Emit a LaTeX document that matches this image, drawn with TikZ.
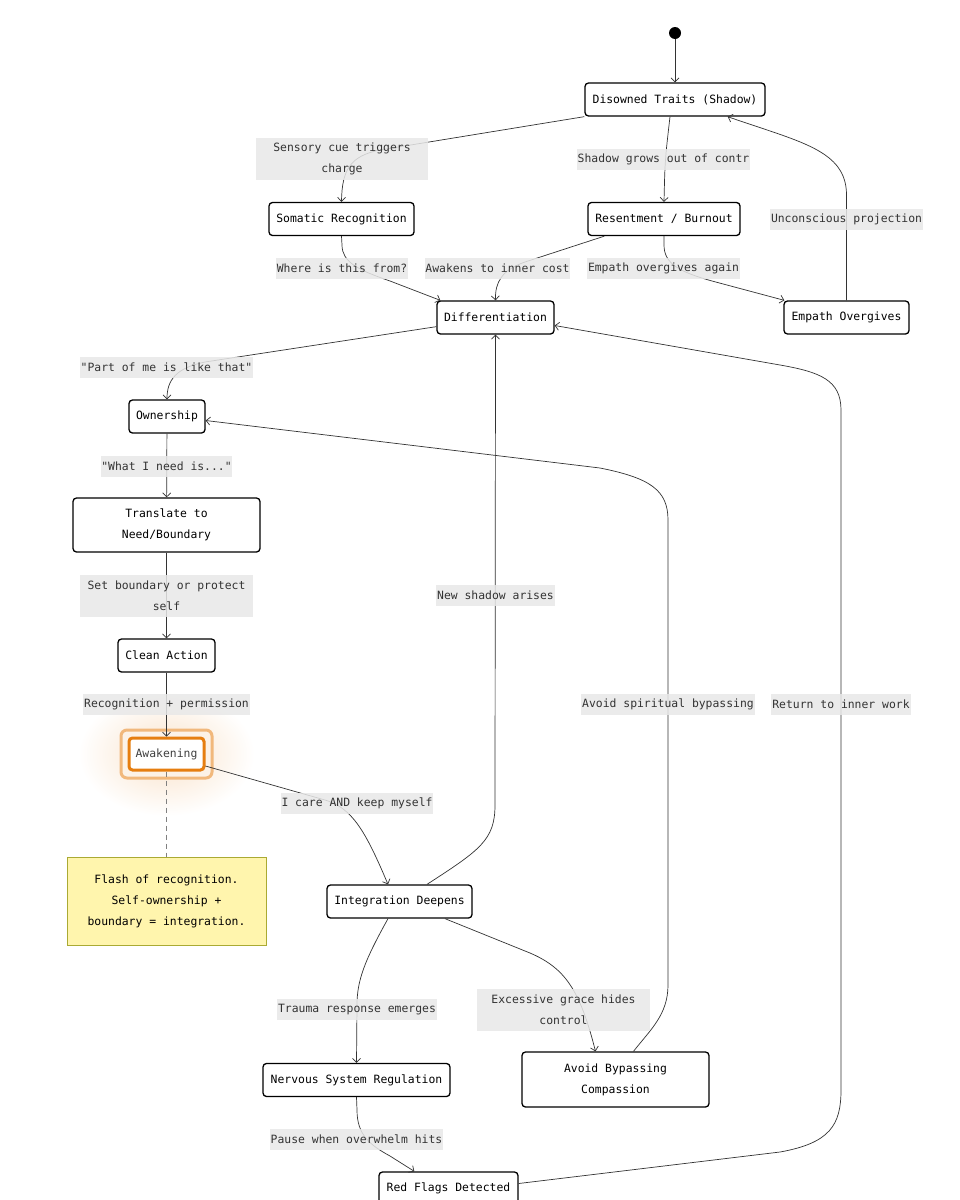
\documentclass[tikz,border=0pt]{standalone}
\usepackage{fontspec}
\setmonofont{DejaVu Sans Mono}
\usetikzlibrary{arrows.meta,calc}
\definecolor{edgec}{HTML}{333333}
\definecolor{lblbg}{HTML}{E8E8E8}
\definecolor{lbltxt}{HTML}{333333}
\definecolor{glow}{HTML}{E67E10}
\definecolor{notefill}{HTML}{FFF5AD}
\definecolor{notedraw}{HTML}{AAAA33}
\tikzset{
  x=1pt,y=-1pt,
  basefont/.style={font=\ttfamily\fontsize{11.4}{21}\selectfont},
  stbox/.style={basefont,draw=black,line width=1.3pt,rounded corners=3.5pt,fill=white,inner sep=0pt,minimum height=33pt,align=center},
  lbl/.style={basefont,fill=lblbg,fill opacity=0.85,text opacity=1,text=lbltxt,inner sep=0pt,minimum height=21pt,align=center},
  edge/.style={draw=edgec,line width=0.7pt,-{Straight Barb[length=4pt,width=8pt]}},
}
\begin{document}
\begin{tikzpicture}
\useasboundingbox (0,0) rectangle (960,1200);
\fill[white] (0,0) rectangle (960,1200);

% glow behind Awakening
\shade[inner color=glow!22,outer color=white] (166.5,754) ellipse (88pt and 62pt);
\draw[glow!55,fill=glow!10,line width=3pt,rounded corners=6pt] (121,730) rectangle (212,778);

% nodes
\node[fill=black,circle,inner sep=0pt,minimum size=12pt] (start) at (675,33) {};
\node[stbox,minimum width=180pt] (dis) at (675,99.5) {Disowned Traits (Shadow)};
\node[stbox,minimum width=145pt] (som) at (341.5,219) {Somatic Recognition};
\node[stbox,minimum width=152pt] (res) at (664,219) {Resentment / Burnout};
\node[stbox,minimum width=117pt] (dif) at (495.5,317.5) {Differentiation};
\node[stbox,minimum width=125pt] (emp) at (846.5,317.5) {Empath Overgives};
\node[stbox,minimum width=76pt] (own) at (167,416.5) {Ownership};
\node[stbox,minimum width=187pt,minimum height=54pt] (tra) at (166.5,525) {Translate to\\Need/Boundary};
\node[stbox,minimum width=97pt] (cln) at (166.5,655.5) {Clean Action};
\node[stbox,draw=glow,line width=3pt,minimum width=75pt,minimum height=32pt,text=black!75] (awk) at (166.5,754) {Awakening};
\node[basefont,draw=notedraw,fill=notefill,line width=0.8pt,minimum width=199pt,minimum height=88pt,inner sep=0pt,align=center] (note) at (166.5,901) {Flash of recognition.\\Self-ownership +\\boundary = integration.};
\node[stbox,minimum width=145pt] (int) at (399.5,901.5) {Integration Deepens};
\node[stbox,minimum width=187pt] (nsr) at (356.5,1080) {Nervous System Regulation};
\node[stbox,minimum width=187pt,minimum height=55pt] (avb) at (615.5,1079.5) {Avoid Bypassing\\Compassion};
\node[stbox,minimum width=139pt] (red) at (448.5,1188.5) {Red Flags Detected};

% edges
\draw[edge] (start) -- (dis);
\draw[edge] (dis.south west) -- (380,150) .. controls (350,156) and (342,170) .. (som.north);
\draw[edge] ($(dis.south)+(-5,0)$) .. controls (665,160) .. (res.north);
\draw[edge] (emp.north) -- (846.5,195) .. controls (846.5,150) and (800,142) .. ($(dis.south east)+(-38,0)$);
\draw[edge] (som.south) -- (342,245) .. controls (342,262) and (358,270) .. (390,281) -- ($(dif.north west)+(4,0)$);
\draw[edge] ($(res.south west)+(17,0)$) -- (525,262) .. controls (502,270) and (495,282) .. (dif.north);
\draw[edge] (res.south) -- (664,245) .. controls (664,264) and (680,272) .. (712,281) -- ($(emp.north west)+(1,0)$);
\draw[edge] ($(dif.south west)+(0,-8)$) -- (205,362) .. controls (176,368) and (167,380) .. (own.north);
\draw[edge] ($(red.east)+(0,-5)$) -- (780,1152) .. controls (830,1143) and (841,1125) .. (841,1090) -- (841,410) .. controls (841,380) and (820,372) .. (780,365) -- ($(dif.east)+(0,8)$);
\draw[edge] ($(avb.north)+(18,0)$) .. controls (650,1030) and (668,1015) .. (668,985) -- (668,520) .. controls (668,490) and (650,478) .. (600,468) -- ($(own.east)+(0,4)$);
\draw[edge] (own) -- (tra);
\draw[edge] (tra) -- (cln);
\draw[edge] (cln) -- (awk);
\draw[gray,line width=0.8pt,dash pattern=on 5pt off 4pt] (awk.south) -- (note.north);
\draw[edge] ($(awk.east)+(0,12)$) -- (325,800) .. controls (352,808) and (365,830) .. ($(int.north)+(-11.5,0)$);
\draw[edge] ($(int.north)+(27.5,0)$) .. controls (480,850) and (495,840) .. (495,805) -- (dif.south);
\draw[edge] ($(int.south)+(-11.5,0)$) .. controls (365,960) and (357,980) .. (357,1005) -- (nsr.north);
\draw[edge] ($(int.south)+(45.5,0)$) -- (530,953) .. controls (565,968) and (580,990) .. ($(avb.north)+(-20,0)$);
\draw[edge] (nsr.south) -- (357,1110) .. controls (357,1135) and (370,1145) .. (390,1156) -- ($(red.north west)+(36,0)$);

% labels
\node[lbl,minimum width=172pt,minimum height=42pt] (l1) at (342,159) {Sensory cue triggers\\charge};
\node[lbl,minimum width=173pt] (l2) at (663.5,159.5) {Shadow grows out of contr};
\node[lbl,minimum width=153pt] (l3) at (846.5,219.5) {Unconscious projection};
\node[lbl,minimum width=132pt] (l4) at (342,268.5) {Where is this from?};
\node[lbl,minimum width=145pt] (l5) at (497.5,268.5) {Awakens to inner cost};
\node[lbl,minimum width=153pt] (l6) at (663.5,268.5) {Empath overgives again};
\node[lbl,minimum width=173pt] (l7) at (166.5,367.5) {"Part of me is like that"};
\node[lbl,minimum width=131pt] (l8) at (166.5,466) {"What I need is..."};
\node[lbl,minimum width=173pt,minimum height=42pt] (l9) at (166.5,595.5) {Set boundary or protect\\self};
\node[lbl,minimum width=167pt] (l10) at (166.5,704.5) {Recognition + permission};
\node[lbl,minimum width=119pt] (l11) at (495.5,595.5) {New shadow arises};
\node[lbl,minimum width=174pt] (l12) at (668,704.5) {Avoid spiritual bypassing};
\node[lbl,minimum width=140pt] (l13) at (841,704.5) {Return to inner work};
\node[lbl,minimum width=152pt] (l14) at (357,803.5) {I care AND keep myself};
\node[lbl,minimum width=160pt] (l15) at (357,1009.5) {Trauma response emerges};
\node[lbl,minimum width=173pt,minimum height=42pt] (l16) at (563.5,1009.5) {Excessive grace hides\\control};
\node[lbl,minimum width=173pt] (l17) at (356.5,1139.5) {Pause when overwhelm hits};
\end{tikzpicture}
\end{document}
